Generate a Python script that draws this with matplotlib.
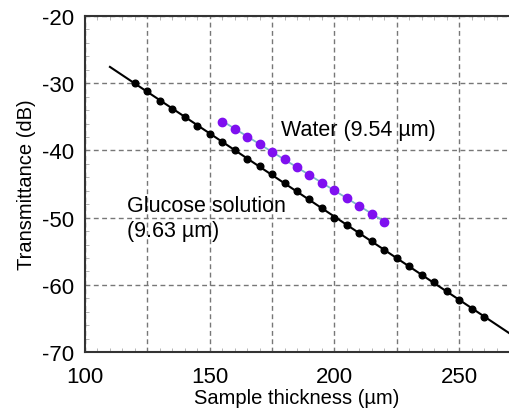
import numpy as np
import matplotlib
matplotlib.use("Agg")
import matplotlib.pyplot as plt
from matplotlib.ticker import MultipleLocator, FuncFormatter

plt.rcParams["font.family"] = ["Liberation Sans", "DejaVu Sans"]
plt.rcParams["axes.unicode_minus"] = False

# glucose solution: transmittance vs sample thickness
glucose_x = [120, 125, 130, 135, 140, 145, 150, 155, 160, 165, 170, 175, 180, 185, 190,
             195, 200, 205, 210, 215, 220, 225, 230, 235, 240, 245, 250, 255, 260]
glucose_y = [-29.9, -31.2, -32.6, -33.8, -35.1, -36.3, -37.6, -38.8, -39.9, -41.3, -42.3,
             -43.5, -44.9, -46.1, -47.2, -48.6, -50.0, -51.1, -52.3, -53.5, -54.8, -56.0,
             -57.2, -58.5, -59.6, -60.9, -62.3, -63.6, -64.7]

# pure water
water_x = [155, 160, 165, 170, 175, 180, 185, 190, 195, 200, 205, 210, 215, 220]
water_y = [-35.7, -36.8, -38.0, -39.0, -40.2, -41.3, -42.4, -43.6, -44.8, -45.9,
           -47.1, -48.2, -49.5, -50.7]

fig = plt.figure(figsize=(5.09, 4.14), dpi=100)
ax = fig.add_axes([0.167, 0.147, 0.833, 0.812])

# linear fits
g_fit = np.polyfit(glucose_x, glucose_y, 1)
gx = np.array([110, 270])
ax.plot(gx, np.polyval(g_fit, gx), color="black", lw=1.5, zorder=3)
ax.plot(glucose_x, glucose_y, "o", color="black", ms=4.8, zorder=4)

w_fit = np.polyfit(water_x, water_y, 1)
wx = np.array([water_x[0], water_x[-1]])
ax.plot(wx, np.polyval(w_fit, wx), color="#7fb8c8", lw=1.3, zorder=3)
ax.plot(water_x, water_y, "o", color="#7f10f0", ms=6, zorder=4)

ax.text(178.5, -36.9, "Water (9.54 \u00b5m)", fontsize=15.5, va="center", ha="left")
ax.text(116.8, -50.1, "Glucose solution\n(9.63 \u00b5m)", fontsize=15.5, va="center",
        ha="left", linespacing=1.25)

ax.set_xlim(100, 270)
ax.set_ylim(-70, -20)
ax.xaxis.set_major_locator(MultipleLocator(25))
ax.xaxis.set_minor_locator(MultipleLocator(5))
ax.xaxis.set_major_formatter(FuncFormatter(lambda v, p: f"{v:.0f}" if v % 50 == 0 else ""))
ax.yaxis.set_major_locator(MultipleLocator(10))
ax.yaxis.set_minor_locator(MultipleLocator(2))

ax.tick_params(which="both", direction="in", top=True, right=False, labelsize=16)
ax.tick_params(which="major", length=0)
ax.tick_params(axis="x", which="major", pad=10)
ax.tick_params(axis="y", which="major", pad=8)
ax.tick_params(which="minor", length=3, width=0.5, color="#999999")

ax.grid(True, which="major", color="#777777", linestyle=(0, (3.5, 2.5)), lw=1.0)
ax.spines["right"].set_visible(False)
for s in ["left", "bottom", "top"]:
    ax.spines[s].set_linewidth(1.5)
    ax.spines[s].set_color("#333333")

ax.set_xlabel("Sample thickness (\u00b5m)", fontsize=14.5, labelpad=1)
ax.set_ylabel("Transmittance (dB)", fontsize=14.5, labelpad=4)

fig.savefig("out.png", dpi=100)
